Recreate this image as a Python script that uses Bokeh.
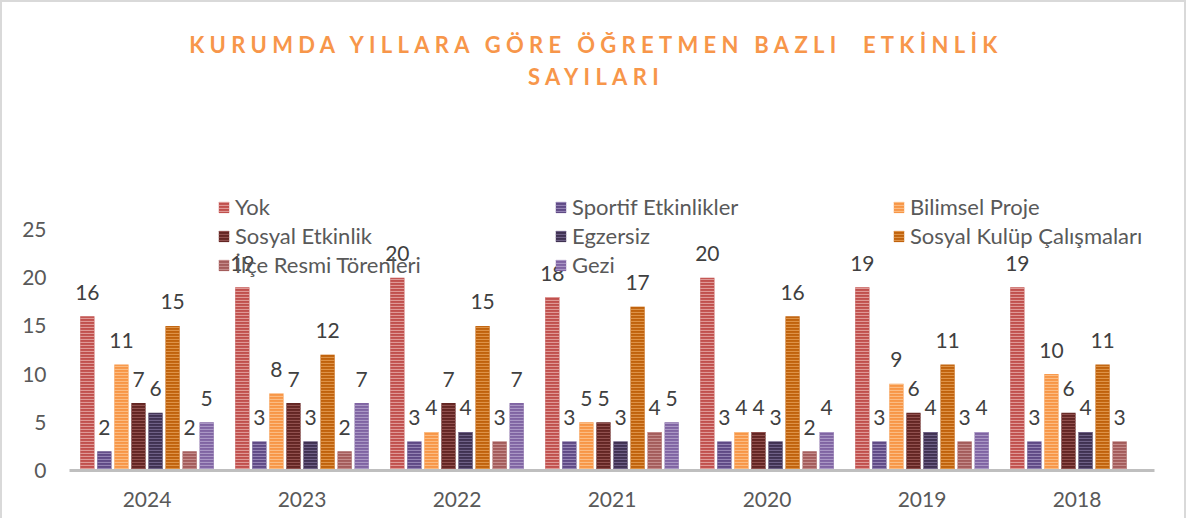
import numpy as np
from bokeh.plotting import figure
from bokeh.models import (ColumnDataSource, FactorRange, Range1d, Legend, LegendItem,
                          Div, FixedTicker)
from bokeh.layouts import column
from bokeh.transform import dodge
from bokeh.core.properties import value
from bokeh.embed import file_html
from bokeh.resources import INLINE

# ---------------- data ----------------
years = ["2024", "2023", "2022", "2021", "2020", "2019", "2018"]
series_names = ["Yok", "Sportif Etkinlikler", "Bilimsel Proje", "Sosyal Etkinlik",
                "Egzersiz", "Sosyal Kulüp Çalışmaları", "İlçe Resmi Törenleri", "Gezi"]
yok = [16, 19, 20, 18, 20, 19, 19]
sportif = [2, 3, 3, 3, 3, 3, 3]
bilimsel = [11, 8, 4, 5, 4, 9, 10]
sosyal_etkinlik = [7, 7, 7, 5, 4, 6, 6]
egzersiz = [6, 3, 4, 3, 3, 4, 4]
sosyal_kulup = [15, 12, 15, 17, 16, 11, 11]
ilce = [2, 2, 3, 4, 2, 3, 3]
gezi = [5, 7, 7, 5, 4, 4, None]
y_ticks = [0, 5, 10, 15, 20, 25]
title_line1 = "KURUMDA YILLARA GÖRE ÖĞRETMEN BAZLI&nbsp; ETKİNLİK"
title_line2 = "SAYILARI"

all_series = [yok, sportif, bilimsel, sosyal_etkinlik, egzersiz, sosyal_kulup, ilce, gezi]

fills = ["#c0504d", "#5f4a85", "#f79646", "#632523", "#3f3151", "#c0620c", "#a35c5b", "#8064a2"]
hatches = ["#eab1af", "#a595c4", "#fcc897", "#a0605e", "#7f719a", "#e8a35c", "#cf9b9a", "#b8a8d0"]

FONT = "Lato"
TXT = "#595959"

data = {"year": years}
for i, vals in enumerate(all_series):
    data[f"s{i}"] = [np.nan if v is None else v for v in vals]
    data[f"l{i}"] = ["" if v is None else str(v) for v in vals]
src = ColumnDataSource(data)

p = figure(x_range=FactorRange(*years), y_range=Range1d(0, 29.05),
           width=1172, height=406, output_backend="svg", toolbar_location=None,
           min_border_left=67, min_border_right=20, min_border_top=78, min_border_bottom=48)
p.outline_line_color = None
p.xgrid.grid_line_color = None
p.ygrid.grid_line_color = None
p.background_fill_color = "white"
p.border_fill_color = "white"

pitch = 0.11
renderers = []
for i in range(8):
    off = (i - 3.5) * pitch
    r = p.vbar(x=dodge("year", off, range=p.x_range), top=f"s{i}", width=0.092, source=src,
               fill_color=fills[i], line_color=None,
               hatch_pattern="horizontal_line", hatch_color=hatches[i],
               hatch_scale=3, hatch_weight=1.2, hatch_alpha=0.75)
    renderers.append(r)
    p.text(x=dodge("year", off, range=p.x_range), y=f"s{i}", text=f"l{i}", source=src,
           text_align="center", text_baseline="middle", y_offset=-24,
           text_font=value(FONT), text_font_size="21px", text_color="#404040")

# axes
p.xaxis.axis_line_color = "#bfbfbf"
p.xaxis.axis_line_width = 3
p.xaxis.major_tick_line_color = None
p.xaxis.minor_tick_line_color = None
p.xaxis.major_tick_out = 0
p.xaxis.major_tick_in = 0
p.xaxis.major_label_standoff = 21
p.xaxis.major_label_text_font = FONT
p.xaxis.major_label_text_font_size = "21px"
p.xaxis.major_label_text_color = TXT

p.yaxis.ticker = FixedTicker(ticks=y_ticks)
p.yaxis.axis_line_color = None
p.yaxis.major_tick_line_color = None
p.yaxis.minor_tick_line_color = None
p.yaxis.major_tick_out = 0
p.yaxis.major_tick_in = 0
p.yaxis.major_label_standoff = 23
p.yaxis.major_label_text_font = FONT
p.yaxis.major_label_text_font_size = "21px"
p.yaxis.major_label_text_color = TXT

# legend: three columns
cols = [[0, 3, 6], [1, 4, 7], [2, 5]]
locs = [(148, 191), (485, 191), (823, 220)]
for idxs, loc in zip(cols, locs):
    lg = Legend(items=[LegendItem(label=series_names[j], renderers=[renderers[j]]) for j in idxs],
                location=loc, orientation="vertical",
                glyph_width=13, glyph_height=14, label_height=29, label_standoff=5,
                spacing=0, padding=0, margin=0,
                border_line_color=None, background_fill_alpha=0,
                label_text_font=FONT, label_text_font_size="22px", label_text_color=TXT)
    p.add_layout(lg, "center")

title = Div(text=(f'<div style="width:1172px;text-align:center;color:#f7964a;font-family:{FONT};'
                  f'font-weight:bold;font-size:22px;letter-spacing:5.3px;line-height:32px;'
                  f'padding-top:22px;padding-left:6px;box-sizing:border-box;">'
                  f'{title_line1}<br>{title_line2}</div>'),
            width=1172, height=100)

layout = column(title, p, styles={"border": "2px solid #d9d9d9", "border-bottom": "none",
                                   "background": "white"})

open("out.html", "w").write(file_html(layout, INLINE))
